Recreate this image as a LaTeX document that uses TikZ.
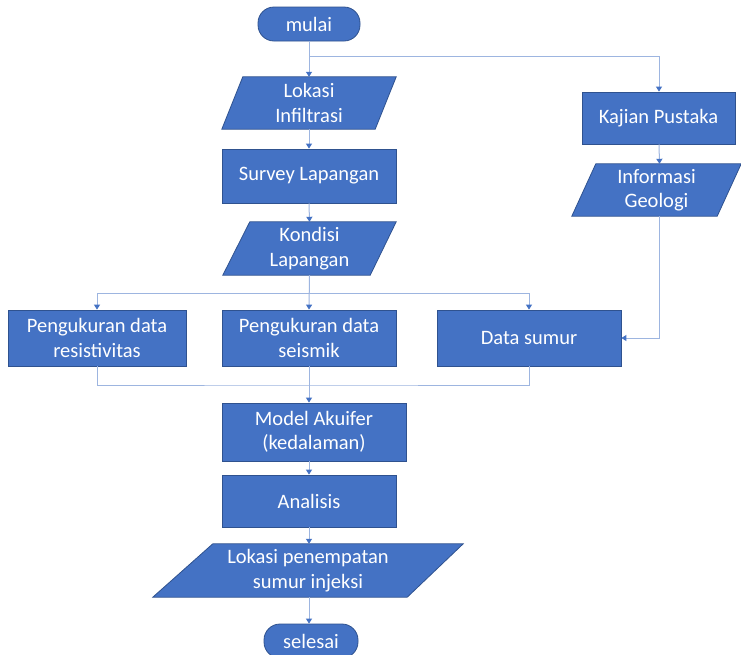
\documentclass[tikz,border=0pt]{standalone}
\usepackage{fontspec}
\setmainfont{Carlito}
\usetikzlibrary{arrows.meta,backgrounds}
\definecolor{boxfill}{HTML}{4472C4}
\definecolor{boxline}{HTML}{2F528F}
\definecolor{connc}{HTML}{9DB5E0}
\begin{document}
\begin{tikzpicture}[x=1pt,y=-1pt,
  lbl/.style={text=white, font=\fontsize{20.5}{24.5}\selectfont, align=center, inner sep=0pt},
  rectbox/.style={lbl, draw=boxline, fill=boxfill, line width=0.8pt},
  termbox/.style={rectbox, rounded corners=16pt},
  shapefill/.style={draw=boxline, fill=boxfill, line width=0.8pt},
  arr/.style={draw=connc, line width=1pt, -{Triangle[width=6pt,length=5pt,color=boxfill]}},
  ln/.style={draw=connc, line width=1pt}
]
\useasboundingbox (0,0) rectangle (741,654);

% nodes
\node[termbox, minimum width=102pt, minimum height=34pt] (mulai) at (309,24) {mulai};
\node[lbl, minimum width=174pt, minimum height=52pt] (lok) at (309,103) {Lokasi\\Infiltrasi};
\node[rectbox, minimum width=174pt, minimum height=54pt] (survey) at (309,176) {Survey Lapangan};
\node[lbl, minimum width=173pt, minimum height=53pt] (kond) at (309.5,248.5) {Kondisi\\Lapangan};
\node[rectbox, minimum width=153pt, minimum height=52pt] (kajian) at (658.5,118) {Kajian Pustaka};
\node[lbl, minimum width=169pt, minimum height=52pt] (info) at (656.5,190) {Informasi\\Geologi};
\node[rectbox, minimum width=178pt, minimum height=56pt] (res) at (97,338) {Pengukuran data\\resistivitas};
\node[rectbox, minimum width=174pt, minimum height=56pt] (seis) at (309,338) {Pengukuran data\\seismik};
\node[rectbox, minimum width=184pt, minimum height=56pt] (sumur) at (529,338) {Data sumur};
\node[rectbox, minimum width=184pt, minimum height=58pt] (model) at (314,432) {Model Akuifer\\(kedalaman)};
\node[rectbox, minimum width=174pt, minimum height=52pt] (anal) at (309,501) {Analisis};
\node[lbl, minimum width=310pt, minimum height=53pt] (lokasi2) at (308,570.5) {Lokasi penempatan\\sumur injeksi};
\node[termbox, minimum width=94pt, minimum height=34pt] (selesai) at (311,641) {selesai};

% background and parallelogram bodies
\begin{scope}[on background layer]
  \fill[white] (0,0) rectangle (741,654);
  \filldraw[shapefill] ([xshift=21pt]lok.north west) -- (lok.north east) -- ([xshift=-21pt]lok.south east) -- (lok.south west) -- cycle;
  \filldraw[shapefill] ([xshift=27pt]kond.north west) -- (kond.north east) -- ([xshift=-26pt]kond.south east) -- (kond.south west) -- cycle;
  \filldraw[shapefill] ([xshift=24pt]info.north west) -- (info.north east) -- ([xshift=-24pt]info.south east) -- (info.south west) -- cycle;
  \filldraw[shapefill] ([xshift=60pt]lokasi2.north west) -- (lokasi2.north east) -- ([xshift=-56pt]lokasi2.south east) -- (lokasi2.south west) -- cycle;
\end{scope}

% junction coordinates
\coordinate (j1) at (309,56);
\coordinate (j2) at (309,293);
\coordinate (j3) at (309,385);

% connectors
\draw[arr] (mulai.south) -- (lok.north);
\draw[arr] (j1) -| ([xshift=0.5pt]kajian.north);
\draw[arr] (lok.south) -- (survey.north);
\draw[arr] (survey.south) -- (kond.north);
\draw[arr] ([xshift=0.5pt]kajian.south) -- ([xshift=3pt]info.north);
\draw[arr] (kond.south) -- (seis.north);
\draw[arr] (j2) -| (res.north);
\draw[arr] (j2) -| (sumur.north);
\draw[arr] ([xshift=3pt]info.south) |- (sumur.east);
\draw[ln] (res.south) |- (j3) -| (sumur.south);
\draw[arr] (seis.south) -- ([xshift=-5pt]model.north);
\draw[arr] ([xshift=-5pt]model.south) -- (anal.north);
\draw[arr] (anal.south) -- ([xshift=1pt]lokasi2.north);
\draw[arr] ([xshift=1pt]lokasi2.south) -- ([xshift=-2pt]selesai.north);
\end{tikzpicture}
\end{document}
